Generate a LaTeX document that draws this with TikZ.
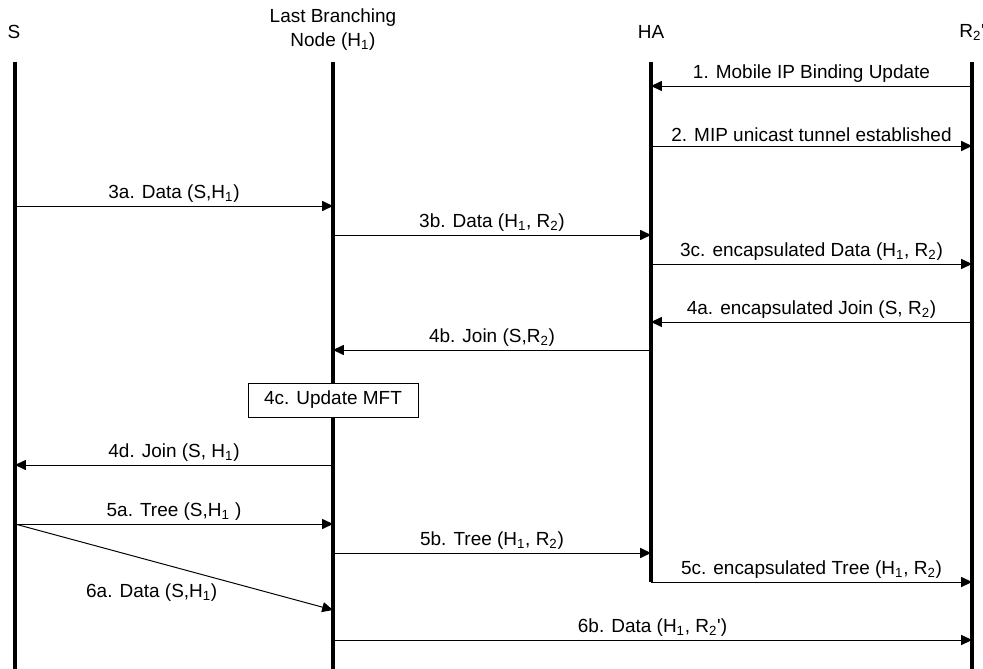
\documentclass[tikz,border=0pt]{standalone}
\usepackage{fontspec}
\setmainfont{Liberation Sans}
\usetikzlibrary{arrows.meta}

\tikzset{
  life/.style={line width=2.2pt},
  msg/.style={line width=0.7pt, -{Triangle[length=0.27cm,width=0.25cm]}},
  lbl/.style={midway, above, inner sep=2.5pt, font=\fontsize{13.5}{15}\selectfont},
  head/.style={align=center, font=\fontsize{13.5}{17}\selectfont}
}

\begin{document}
\begin{tikzpicture}
      \useasboundingbox (0,0) rectangle (24.575,-16.725);
      % heads of the four lifelines
      \node[head] (S) at (0.35,-0.8) {S};
      \node[head] (H) at (8.325,-0.75) {Last Branching\\Node (H\textsubscript{1})};
      \node[head] (HA) at (16.275,-0.8) {HA};
      \node[head] (R) at (24.3,-0.8) {R\textsubscript{2}\textquotesingle};
      \coordinate (Stop) at (0.375,-1.55);
      \coordinate (Htop) at (8.325,-1.55);
      \coordinate (HAtop) at (16.275,-1.55);
      \coordinate (Rtop) at (24.3,-1.55);
      \draw[life] (Stop) -- (Stop |- 0,-16.725);
      \draw[life] (Htop) -- (Htop |- 0,-16.725);
      \draw[life] (HAtop) -- (HAtop |- 0,-14.55);
      \draw[life] (Rtop) -- (Rtop |- 0,-16.725);
      % binding update
      \draw[msg] (Rtop |- 0,-2.15) -- (HAtop |- 0,-2.15) node[lbl] {1. Mobile IP Binding Update};
      \draw[msg] (HAtop |- 0,-3.65) -- (Rtop |- 0,-3.65) node[lbl] {2. MIP unicast tunnel established};
      % data
      \draw[msg] (Stop |- 0,-5.15) -- (Htop |- 0,-5.15) node[lbl] {3a. Data (S,H\textsubscript{1})};
      \draw[msg] (Htop |- 0,-5.875) -- (HAtop |- 0,-5.875) node[lbl] {3b. Data (H\textsubscript{1}, R\textsubscript{2})};
      \draw[msg] (HAtop |- 0,-6.6) -- (Rtop |- 0,-6.6) node[lbl] {3c. encapsulated Data (H\textsubscript{1}, R\textsubscript{2})};
      % join
      \draw[msg] (Rtop |- 0,-8.05) -- (HAtop |- 0,-8.05) node[lbl] {4a. encapsulated Join (S, R\textsubscript{2})};
      \draw[msg] (HAtop |- 0,-8.75) -- (Htop |- 0,-8.75) node[lbl] {4b. Join (S,R\textsubscript{2})};
      \node[draw, fill=white, line width=0.7pt, minimum width=4.25cm, minimum height=0.85cm, font=\fontsize{13.5}{15}\selectfont] (mft) at (8.325,-10) {4c. Update MFT};
      \draw[msg] (Htop |- 0,-11.625) -- (Stop |- 0,-11.625) node[lbl] {4d. Join (S, H\textsubscript{1})};
      % tree
      \draw[msg] (Stop |- 0,-13.1) -- (Htop |- 0,-13.1) node[lbl] {5a. Tree (S,H\textsubscript{1} )};
      \draw[msg] (Htop |- 0,-13.825) -- (HAtop |- 0,-13.825) node[lbl] {5b. Tree (H\textsubscript{1}, R\textsubscript{2})};
      \draw[msg] (HAtop |- 0,-14.55) -- (Rtop |- 0,-14.55) node[lbl] {5c. encapsulated Tree (H\textsubscript{1}, R\textsubscript{2})};
      % data on the new tree
      \draw[msg] (Stop |- 0,-13.1) -- (Htop |- 0,-15.25) node[pos=0.43, below=0.55cm, inner sep=0pt, font=\fontsize{13.5}{15}\selectfont] {6a. Data (S,H\textsubscript{1})};
      \draw[msg] (Htop |- 0,-16) -- (Rtop |- 0,-16) node[lbl] {6b. Data (H\textsubscript{1}, R\textsubscript{2}\textquotesingle)};
\end{tikzpicture}
\end{document}
